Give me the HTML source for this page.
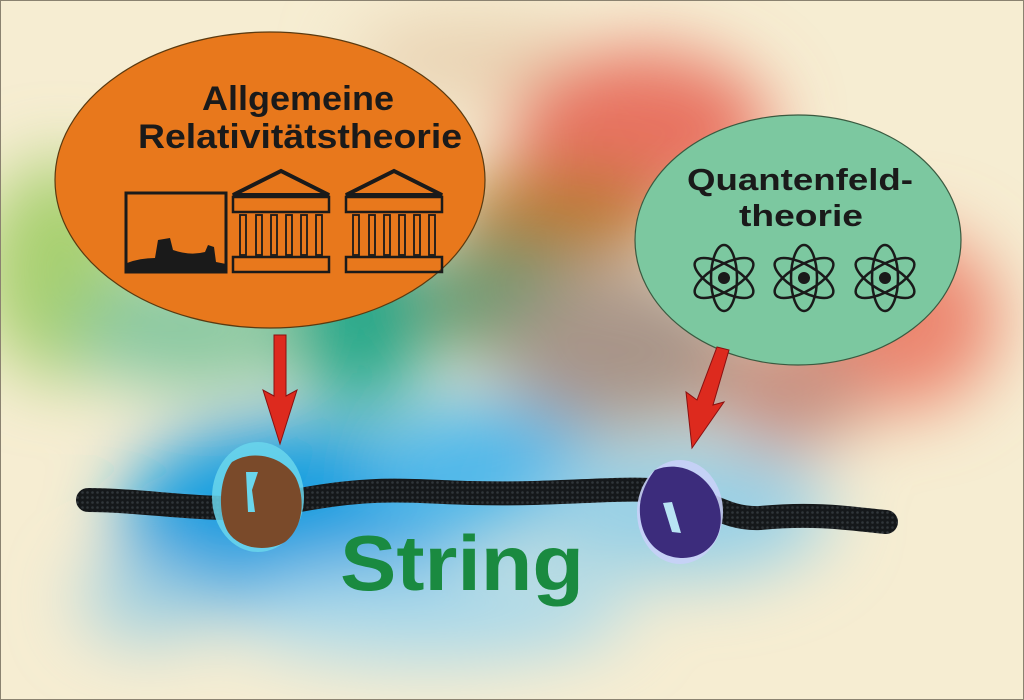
<!DOCTYPE html>
<html><head><meta charset="utf-8"><style>html,body{margin:0;padding:0;width:1024px;height:700px;overflow:hidden;background:#f6edd2}</style></head><body>
<svg width="1024" height="700" viewBox="0 0 1024 700" xmlns="http://www.w3.org/2000/svg" font-family="Liberation Sans, sans-serif">
<defs>
<filter id="b" x="-50%" y="-50%" width="200%" height="200%"><feGaussianBlur stdDeviation="35"/></filter>
<pattern id="rope" width="5" height="5" patternUnits="userSpaceOnUse"><rect width="5" height="5" fill="#15181a"/><circle cx="2.5" cy="2.5" r="1.3" fill="#30363a"/></pattern>
</defs>
<rect width="1024" height="700" fill="#f6edd2"/>
<g filter="url(#b)">
<ellipse cx="470" cy="60" rx="120" ry="40" fill="#e8d0b0"/>
<ellipse cx="640" cy="130" rx="130" ry="80" fill="#e87260"/>
<ellipse cx="900" cy="320" rx="100" ry="90" fill="#ec8670"/>
<ellipse cx="560" cy="215" rx="110" ry="45" fill="#b8782a"/>
<ellipse cx="60" cy="270" rx="80" ry="110" fill="#a8d070"/>
<ellipse cx="190" cy="330" rx="120" ry="60" fill="#88c8a0"/>
<ellipse cx="360" cy="320" rx="70" ry="90" fill="#20a88a"/>
<ellipse cx="500" cy="300" rx="90" ry="60" fill="#6a9a70"/>
<ellipse cx="620" cy="350" rx="120" ry="80" fill="#a89488"/>
<ellipse cx="790" cy="390" rx="80" ry="60" fill="#c89080"/>
<ellipse cx="290" cy="520" rx="170" ry="100" fill="#189ee0"/>
<ellipse cx="480" cy="470" rx="120" ry="70" fill="#50b8ea"/>
<ellipse cx="680" cy="510" rx="150" ry="70" fill="#98d0e6"/>
<ellipse cx="430" cy="610" rx="200" ry="50" fill="#a8d8ea"/>
<ellipse cx="150" cy="600" rx="70" ry="40" fill="#a0d0e0"/>
</g>
<rect x="0.5" y="0.5" width="1023" height="699" fill="none" stroke="#8a8270"/>
<ellipse cx="270" cy="180" rx="215" ry="148" fill="#e8781c" stroke="#5a3a10" stroke-width="1.2"/>
<text x="298" y="110" font-size="34" font-weight="bold" text-anchor="middle" fill="#1a1a1a" textLength="192" lengthAdjust="spacingAndGlyphs">Allgemeine</text>
<text x="300" y="148" font-size="34" font-weight="bold" text-anchor="middle" fill="#1a1a1a" textLength="324" lengthAdjust="spacingAndGlyphs">Relativitätstheorie</text>
<g stroke="#1a1a1a" fill="none">
<rect x="126" y="193" width="100" height="79" stroke-width="3"/>
<path d="M127,271 L127,263 Q140,258 155,258 L158,240 L170,238 L173,250 Q190,256 205,252 L208,245 L214,247 L216,262 L226,264 L226,271 Z" fill="#1a1a1a" stroke="none"/>
</g>
<g id="temple" stroke="#1a1a1a" fill="none" stroke-width="2">
<path d="M233,195 L281,171 L329,195 Z" stroke-width="4"/>
<rect x="233" y="197" width="96" height="15" stroke-width="2.5"/>
<rect x="233" y="257" width="96" height="15" stroke-width="2.5"/>
<g stroke-width="1.8">
<rect x="240" y="215" width="6" height="40"/><rect x="256" y="215" width="6" height="40"/><rect x="271" y="215" width="6" height="40"/><rect x="286" y="215" width="6" height="40"/><rect x="301" y="215" width="6" height="40"/><rect x="316" y="215" width="6" height="40"/>
</g>
</g>
<use href="#temple" x="113"/>
<ellipse cx="798" cy="240" rx="163" ry="125" fill="#7cc8a0" stroke="#3a5a40" stroke-width="1.2"/>
<text x="800" y="190" font-size="31" font-weight="bold" text-anchor="middle" fill="#1a1a1a" textLength="226" lengthAdjust="spacingAndGlyphs">Quantenfeld-</text>
<text x="801" y="226" font-size="31" font-weight="bold" text-anchor="middle" fill="#1a1a1a" textLength="124" lengthAdjust="spacingAndGlyphs">theorie</text>
<g id="atom" fill="none" stroke="#1a1a1a" stroke-width="2.5">
<ellipse cx="724" cy="278" rx="13" ry="33"/>
<ellipse cx="724" cy="278" rx="13" ry="33" transform="rotate(60 724 278)"/>
<ellipse cx="724" cy="278" rx="13" ry="33" transform="rotate(-60 724 278)"/>
<circle cx="724" cy="278" r="6" fill="#1a1a1a" stroke="none"/>
</g>
<use href="#atom" x="80"/>
<use href="#atom" x="161"/>
<path d="M274,335 L286,335 L286,396 L297,390 L280,444 L263,390 L274,396 Z" fill="#dd2a1e" stroke="#8a1010" stroke-width="1"/>
<path d="M717,347 L729,350 L713,405 L724,402 L692,448 L686,392 L697,400 Z" fill="#dd2a1e" stroke="#8a1010" stroke-width="1"/>
<path d="M88,500 C160,500 230,518 300,500 C380,485 420,492 470,493 C560,495 600,488 650,490 C700,492 720,520 760,518 C820,512 860,520 886,522" fill="none" stroke="url(#rope)" stroke-width="24" stroke-linecap="round"/>
<!-- left knot -->
<ellipse cx="258" cy="497" rx="46" ry="55" fill="#6ad6ec" opacity="0.85"/>
<path d="M232,462 C255,448 285,458 296,478 C306,500 303,528 285,542 C268,552 240,550 228,532 C218,515 218,480 232,462 Z" fill="#7a4a2a"/>
<path d="M246,472 L258,472 L252,490 L255,512 L248,512 Z" fill="#6ad6ec"/>
<!-- right knot -->
<ellipse cx="680" cy="512" rx="43" ry="52" fill="#c8d0f8" opacity="0.9"/>
<path d="M655,470 C685,458 715,480 720,510 C725,540 705,558 683,558 C655,558 638,535 640,505 C642,485 655,470 655,470 Z" fill="#3c2c7c"/>
<path d="M663,503 L672,502 L681,533 L672,532 Z" fill="#b8e4f4"/>
<text x="340" y="590" font-size="78" font-weight="bold" fill="#1a8a40" textLength="244" lengthAdjust="spacingAndGlyphs">String</text>
</svg>
</body></html>
